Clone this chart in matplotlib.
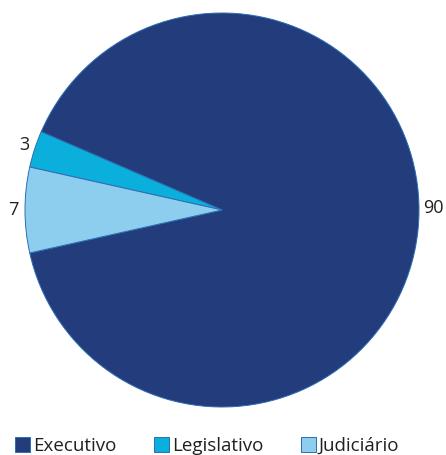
import matplotlib
matplotlib.use("Agg")
import matplotlib.pyplot as plt
from matplotlib.patches import Patch
import numpy as np

categories = ["Executivo", "Legislativo", "Judiciário"]
values = [90, 3, 7]
colors = ["#233c7b", "#0bafdc", "#8dcdee"]

plt.rcParams['font.family'] = ['Open Sans', 'DejaVu Sans']
fig = plt.figure(figsize=(4.46, 4.55), dpi=100)
W, H = 446, 455
cx, cy, r = 222, 210, 197
ax = fig.add_axes([(cx - r) / W, (H - cy - r) / H, 2 * r / W, 2 * r / H])
wedges, texts = ax.pie(values, colors=colors, startangle=192.6, counterclock=True,
                       labels=[str(v) for v in values], labeldistance=1.08,
                       wedgeprops=dict(edgecolor="#2b6db3", linewidth=0.7),
                       textprops=dict(fontsize=13, color="#231f20"))
texts[0].set_position((1.02, 0.01))
texts[0].set_ha('left')
texts[1].set_position((-0.975, 0.33))
texts[1].set_ha('right')
texts[2].set_position((-1.035, 0.0))
texts[2].set_ha('right')
ax.set_xlim(-1, 1)
ax.set_ylim(-1, 1)
ax.set_aspect('equal')
ax.axis('off')

handles = [Patch(facecolor=c, edgecolor="#2b6db3", linewidth=0.7) for c in colors]
fig.legend(handles, categories, loc='lower left', bbox_to_anchor=(0.034, 0.0),
           ncol=3, frameon=False, fontsize=13.5, handlelength=0.8, handleheight=0.8,
           handletextpad=0.15, columnspacing=2.0, borderaxespad=0, borderpad=0,
           labelcolor="#231f20")
fig.savefig("out.png", dpi=100)
